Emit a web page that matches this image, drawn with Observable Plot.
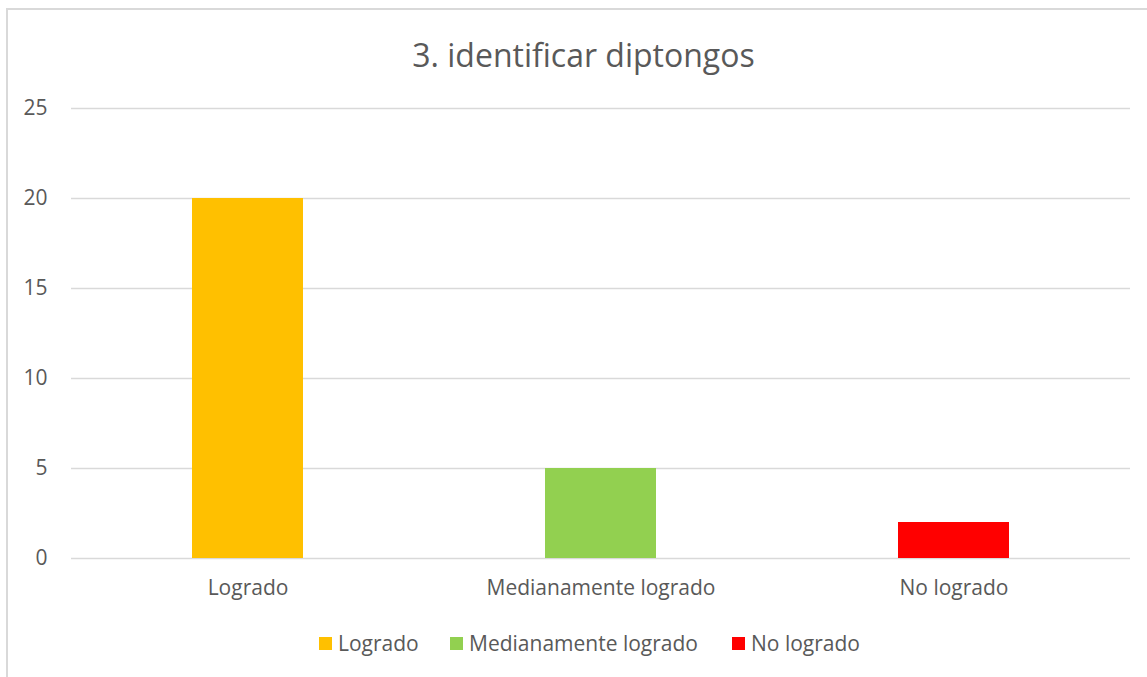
<!DOCTYPE html>
<html>
<head>
<meta charset="utf-8">
<script src="https://cdn.jsdelivr.net/npm/d3@7"></script>
<script src="https://cdn.jsdelivr.net/npm/@observablehq/plot@0.6"></script>
<style>
  html, body { margin: 0; padding: 0; background: #fff; width: 1147px; height: 677px; overflow: hidden; }
  #frame { position: absolute; left: 6px; top: 8px; width: 1200px; height: 800px; border: 2px solid #d9d9d9; box-sizing: border-box; }
  #title { position: absolute; left: 0; top: 33px; width: 1167px; text-align: center; font-family: "Open Sans", sans-serif; font-size: 32px; color: #595959; line-height: 44px; }
  #chart { position: absolute; left: 0; top: 0; }
  #legend { position: absolute; top: 630px; left: 0; width: 1147px; font-family: "Open Sans", sans-serif; font-size: 21px; color: #595959; }
  .item { position: absolute; display: flex; align-items: center; line-height: 26px; white-space: nowrap; }
  .sw { width: 13px; height: 13px; margin-right: 6px; }
  #chart svg text { font-size: 21px; }
</style>
</head>
<body>
<div id="frame"></div>
<div id="chart"></div>
<div id="title">3. identificar diptongos</div>
<div id="legend"></div>
<script>
const categories = ["Logrado", "Medianamente logrado", "No logrado"];
const values = [20, 5, 2];
const colors = ["#ffc000", "#92d050", "#ff0000"];
const yTicks = [0, 5, 10, 15, 20, 25];
const title = "3. identificar diptongos";

const data = categories.map((c, i) => ({category: c, value: values[i]}));

const plot = Plot.plot({
  width: 1147,
  height: 677,
  marginLeft: 71,
  marginRight: 17,
  marginTop: 108,
  marginBottom: 119,
  style: {fontFamily: "'Open Sans', sans-serif", fontSize: "21px", color: "#595959", background: "transparent"},
  x: {domain: categories, padding: 0, label: null},
  y: {domain: [0, 25], label: null},
  color: {domain: categories, range: colors},
  marks: [
    Plot.ruleY(yTicks, {stroke: "#d9d9d9", strokeWidth: 1.5}),
    Plot.barY(data, {x: "category", y: "value", fill: "category", insetLeft: 121, insetRight: 121}),
    Plot.axisY({ticks: yTicks, tickSize: 0, tickPadding: 24, label: null, fill: "#595959", fontSize: 21}),
    Plot.axisX({tickSize: 0, tickPadding: 22, label: null, fill: "#595959", fontSize: 21})
  ]
});
document.getElementById("chart").appendChild(plot);

const legendPos = [319, 450, 732];
const legend = document.getElementById("legend");
categories.forEach((c, i) => {
  const item = document.createElement("div");
  item.className = "item";
  item.style.left = legendPos[i] + "px";
  const sw = document.createElement("div");
  sw.className = "sw";
  sw.style.background = colors[i];
  const t = document.createElement("span");
  t.textContent = c;
  item.appendChild(sw);
  item.appendChild(t);
  legend.appendChild(item);
});
</script>
</body>
</html>
